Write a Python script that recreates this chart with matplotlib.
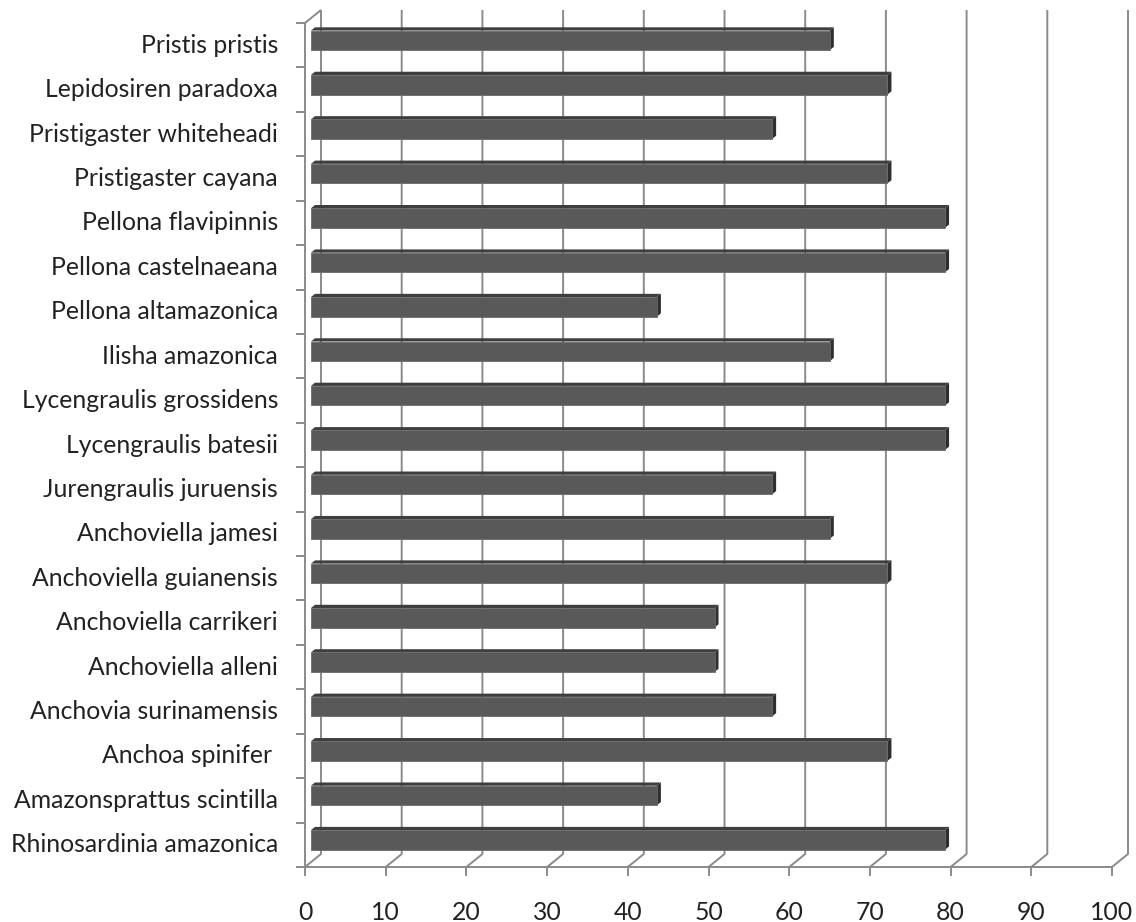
import matplotlib
matplotlib.use("Agg")
import matplotlib.pyplot as plt
from matplotlib.lines import Line2D
from matplotlib.patches import Polygon
from matplotlib.transforms import IdentityTransform

# Species (bottom to top) and their percentage values
species = [
    "Rhinosardinia amazonica",
    "Amazonsprattus scintilla",
    "Anchoa spinifer ",
    "Anchovia surinamensis",
    "Anchoviella alleni",
    "Anchoviella carrikeri",
    "Anchoviella guianensis",
    "Anchoviella jamesi",
    "Jurengraulis juruensis",
    "Lycengraulis batesii",
    "Lycengraulis grossidens",
    "Ilisha amazonica",
    "Pellona altamazonica",
    "Pellona castelnaeana",
    "Pellona flavipinnis",
    "Pristigaster cayana",
    "Pristigaster whiteheadi",
    "Lepidosiren paradoxa",
    "Pristis pristis",
]
values = [78.57, 42.86, 71.43, 57.14, 50.0, 50.0, 71.43, 64.29, 57.14, 78.57,
          78.57, 64.29, 42.86, 78.57, 78.57, 71.43, 57.14, 71.43, 64.29]
x_ticks = [0, 10, 20, 30, 40, 50, 60, 70, 80, 90, 100]

W, H = 1136, 922
fig = plt.figure(figsize=(W / 100, H / 100), dpi=100)
fig.patch.set_facecolor("white")

# Front plane of the 3-D box
left, right, top, bottom = 305, 1112, 23, 867
ax = fig.add_axes([left / W, (H - bottom) / H, (right - left) / W, (bottom - top) / H])
ax.set_xlim(0, 100)
ax.set_ylim(-0.5, len(species) - 0.5)
ax.axis("off")

# Depth vector (pixels) from the front plane to the back wall
DX, DY = 16.0, 13.0

def P(v, c, d=0.0):
    x, y = ax.transData.transform((v, c))
    return (x + d * DX, y + d * DY)

ident = IdentityTransform()
grid_col = "#8a8a8a"
lw = 1.4

def poly_line(pts, **kw):
    xs = [p[0] for p in pts]
    ys = [p[1] for p in pts]
    fig.add_artist(Line2D(xs, ys, transform=ident, color=grid_col,
                          linewidth=lw, solid_capstyle="butt", **kw))

y_lo, y_hi = -0.5, len(species) - 0.5

# Gridlines: across the floor then up the back wall
for v in x_ticks:
    poly_line([P(v, y_lo, 0), P(v, y_lo, 1), P(v, y_hi, 1)], zorder=1)

# Front floor edge and category axis with the top edge of the side wall
poly_line([P(0, y_lo, 0), P(100, y_lo, 0)], zorder=3)
poly_line([P(0, y_lo, 0), P(0, y_hi, 0), P(0, y_hi, 1)], zorder=3)

# Tick marks
for v in x_ticks:
    x0, y0 = P(v, y_lo, 0)
    fig.add_artist(Line2D([x0, x0], [y0, y0 - 8], transform=ident,
                          color=grid_col, linewidth=lw, zorder=3))
for k in range(len(species) + 1):
    x0, y0 = P(0, y_lo + k, 0)
    fig.add_artist(Line2D([x0 - 8, x0], [y0, y0], transform=ident,
                          color=grid_col, linewidth=lw, zorder=3))

# 3-D bars
bar_h = 0.44
d1, d2 = 0.375, 0.625
front_col, top_col, side_col = "#595959", "#3e3e3e", "#2e2e2e"
for i, v in enumerate(values):
    yb, yt = i - bar_h / 2, i + bar_h / 2
    front = [P(0, yb, d1), P(v, yb, d1), P(v, yt, d1), P(0, yt, d1)]
    topf = [P(0, yt, d1), P(v, yt, d1), P(v, yt, d2), P(0, yt, d2)]
    side = [P(v, yb, d1), P(v, yb, d2), P(v, yt, d2), P(v, yt, d1)]
    fig.add_artist(Polygon(topf, closed=True, transform=ident,
                           facecolor=top_col, edgecolor="none", zorder=4))
    fig.add_artist(Polygon(side, closed=True, transform=ident,
                           facecolor=side_col, edgecolor="none", zorder=4))
    fig.add_artist(Polygon(front, closed=True, transform=ident,
                           facecolor=front_col, edgecolor="#6a6a6a",
                           linewidth=0.6, zorder=5))

font = ["Lato", "DejaVu Sans"]
fs = 17.8
txt_col = "#222222"

# Category labels
for i, name in enumerate(species):
    ax.annotate(name, xy=(0, i), xycoords="data", xytext=(-27, 0),
                textcoords="offset pixels", ha="right", va="center",
                fontsize=fs, family=font, color=txt_col, annotation_clip=False)

# Value axis labels
for v in x_ticks:
    ax.annotate(str(v), xy=(v, y_lo), xycoords="data", xytext=(0, -45),
                textcoords="offset pixels", ha="center", va="center",
                fontsize=fs, family=font, color=txt_col, annotation_clip=False)

fig.savefig("out.png", dpi=100, facecolor="white")
